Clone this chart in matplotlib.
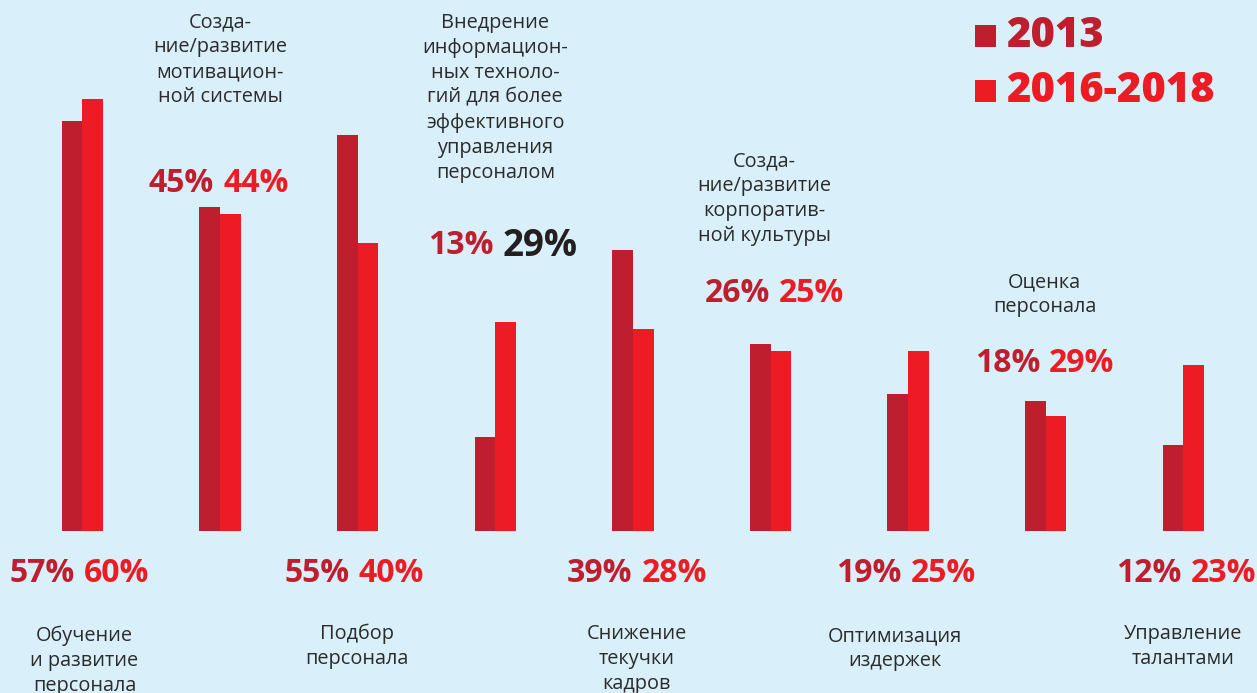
import matplotlib.pyplot as plt
from matplotlib.patches import Rectangle

# data
categories = [
    "Обучение\nи развитие\nперсонала",
    "Созда-\nние/развитие\nмотивацион-\nной системы",
    "Подбор\nперсонала",
    "Внедрение\nинформацион-\nных техноло-\nгий для более\nэффективного\nуправления\nперсоналом",
    "Снижение\nтекучки\nкадров",
    "Созда-\nние/развитие\nкорпоратив-\nной культуры",
    "Оптимизация\nиздержек",
    "Оценка\nперсонала",
    "Управление\nталантами",
]
values_2013 = [57, 45, 55, 13, 39, 26, 19, 18, 12]
values_2016 = [60, 44, 40, 29, 28, 25, 25, 16, 23]
labels_2013 = ["57%", "45%", "55%", "13%", "39%", "26%", "19%", "18%", "12%"]
labels_2016 = ["60%", "44%", "40%", "29%", "28%", "25%", "25%", "29%", "23%"]
series_names = ["2013", "2016-2018"]

# styles / layout
BG = "#d9f0fa"
C2013 = "#be1e2d"
C2016 = "#ed1c24"
TEXT = "#2b2b2b"
W, H = 1257, 693
BASE_PX = 531          # pixel row of the bar baseline
PX_PER_PCT = 7.2
X0_PX, STEP_PX = 82.5, 137.6
BAR_W = 0.15

def py(y_px):
    return (BASE_PX - y_px) / PX_PER_PCT

def px(x_px):
    return (x_px - X0_PX) / STEP_PX

# percentage label rows (pixel y centre) and x shifts (px)
pct_y = [573, 183, 573, 246, 573, 293, 573, 363, 573]
pct_dx = [-3, -1.5, -4, 2.5, 4, 4, -2, -1, 3]
pct_size_2016 = [23, 23, 23, 26.5, 23, 23, 23, 23, 23]
pct_color_2016 = [C2016, C2016, C2016, "#231f20", C2016, C2016, C2016, C2016, C2016]
# category text: first line top (px) and x centre shifts (px)
cat_top = [626, 12, 624, 13, 624, 151, 626, 272, 624]
cat_dx = [2, 0, -1, 0, 4, -6, -13, -1, 0]

plt.rcParams["font.family"] = ["Open Sans", "DejaVu Sans"]

fig = plt.figure(figsize=(W / 100, H / 100), dpi=100)
fig.patch.set_facecolor(BG)
ax = fig.add_axes([0, 0, 1, 1])
ax.set_facecolor(BG)
ax.set_xlim(px(0), px(W))
ax.set_ylim(py(H), py(0))
ax.axis("off")

x = list(range(len(categories)))
ax.bar([i - BAR_W / 2 for i in x], values_2013, width=BAR_W, color=C2013, linewidth=0)
ax.bar([i + BAR_W / 2 for i in x], values_2016, width=BAR_W, color=C2016, linewidth=0)

for i in x:
    cx = i + pct_dx[i] / STEP_PX
    gap = 4.5 / STEP_PX
    ax.text(cx - gap, py(pct_y[i]), labels_2013[i], ha="right", va="center",
            fontsize=23, fontweight="bold", color=C2013)
    ax.text(cx + gap, py(pct_y[i]), labels_2016[i], ha="left", va="center",
            fontsize=pct_size_2016[i], fontweight="bold", color=pct_color_2016[i])
    ax.text(i + cat_dx[i] / STEP_PX, py(cat_top[i]), categories[i], ha="center", va="top",
            fontsize=14.3, color=TEXT, linespacing=1.33)

# legend
for name, col, yc in zip(series_names, [C2013, C2016], [36, 91]):
    fig.patches.append(Rectangle((975 / W, 1 - (yc + 11) / H), 21 / W, 22 / H,
                                 transform=fig.transFigure, facecolor=col, edgecolor="none"))
    fig.text(1006 / W, 1 - yc / H, name, ha="left", va="center", fontsize=30,
             fontweight=800, color=col)

fig.savefig("out.png", dpi=100, facecolor=BG)
